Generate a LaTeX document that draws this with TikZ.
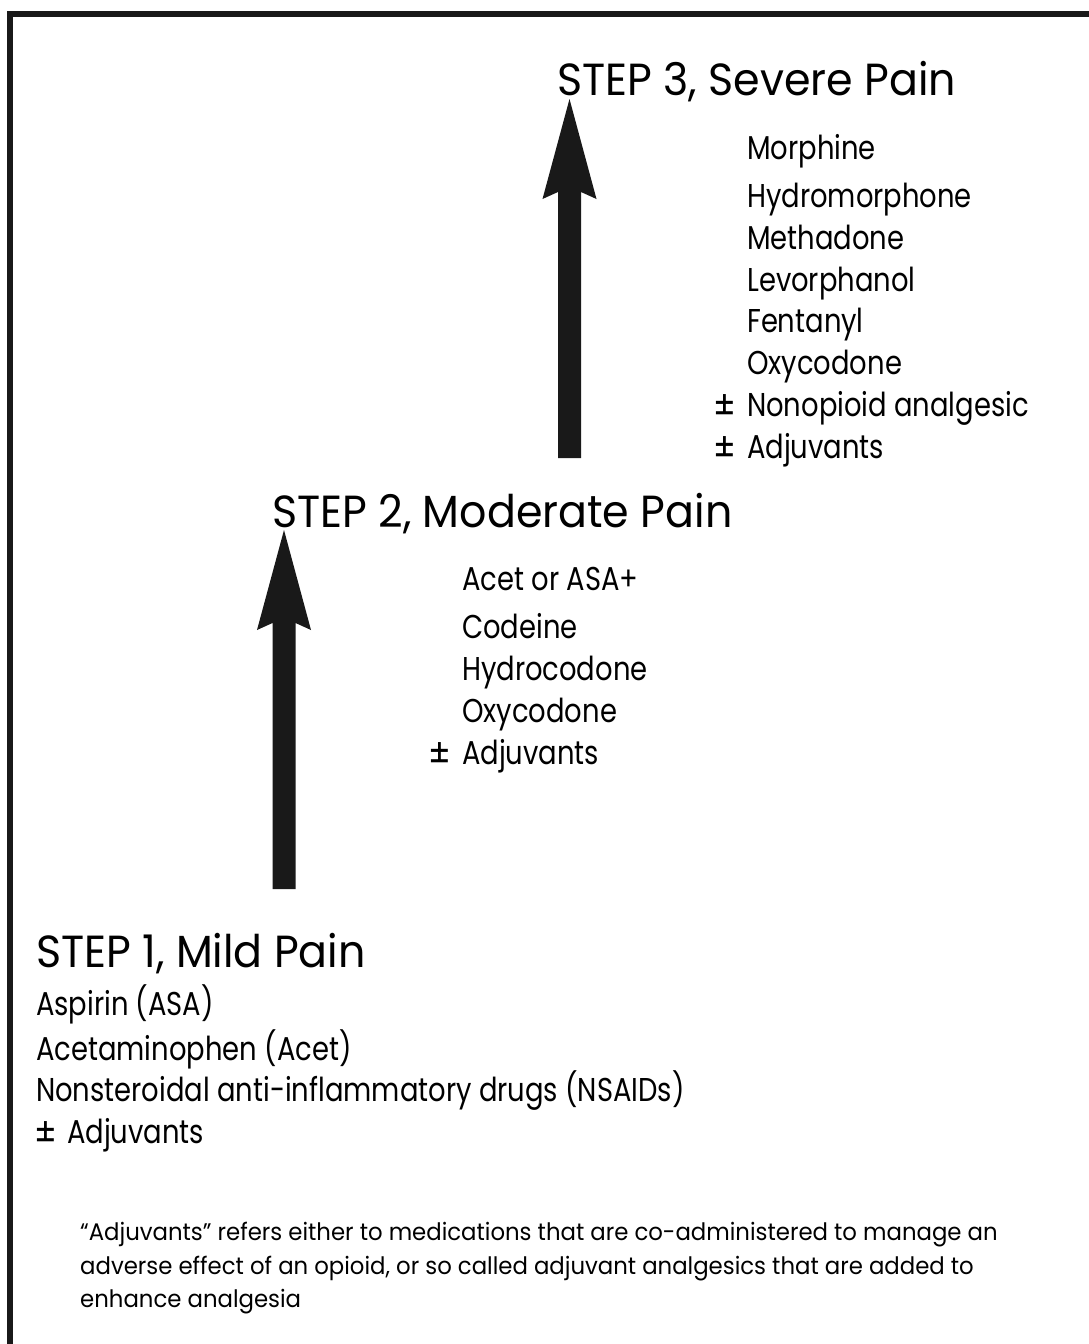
\documentclass[tikz,border=0pt]{standalone}
\usepackage{fontspec}
\setmainfont{Poppins}
\newfontfamily\headfont[FakeStretch=0.95]{Poppins}
\newfontfamily\itemfont[FakeStretch=0.83]{Poppins}
\newfontfamily\notefont[FakeStretch=0.95]{Poppins}
\usetikzlibrary{calc}
\tikzset{
  head/.style={anchor=base west,inner sep=0pt,font=\headfont\fontsize{45}{50}\selectfont},
  item/.style={anchor=base west,inner sep=0pt,font=\itemfont\fontsize{33}{38}\selectfont},
  pmsign/.style={anchor=base west,inner sep=0pt,yshift=-3pt,font=\itemfont\fontsize{40}{42}\selectfont},
  note/.style={anchor=base west,inner sep=0pt,font=\notefont\fontsize{24}{28}\selectfont},
  frame/.style={line width=6pt,black!90}
}
\newcommand{\bigarrowfill}[2]{%
  \fill[black!90] ($(#2)+(-11.5,93)$) -- ($(#2)+(-27,100)$) -- (#2) -- ($(#2)+(27,100)$) -- ($(#2)+(11.5,93)$) -- ($(#1)+(11.5,0)$) -- ($(#1)+(-11.5,0)$) -- cycle;}
\begin{document}
\begin{tikzpicture}[x=1pt,y=-1pt]
\useasboundingbox (0,0) rectangle (1089,1344);
\fill[white] (0,0) rectangle (1089,1344);
% frame
\draw[frame] (1089,14) -- (10,14) -- (10,1344);
% arrows
\coordinate (a3bot) at (569.5,458);
\coordinate (a3tip) at (569.5,99);
\coordinate (a2bot) at (284,889);
\coordinate (a2tip) at (284,530);
\bigarrowfill{a3bot}{a3tip}
\bigarrowfill{a2bot}{a2tip}
% step 3
\node[head] (s3) at (557,95) {STEP 3, Severe Pain};
\node[item] (m1) at (747,159) {Morphine};
\node[item] (m2) at (747,207) {Hydromorphone};
\node[item] (m3) at (747,249) {Methadone};
\node[item] (m4) at (747,291) {Levorphanol};
\node[item] (m5) at (747,332) {Fentanyl};
\node[item] (m6) at (747,374) {Oxycodone};
\node[item] (m7) at (747,416) {Nonopioid analgesic};
\node[item] (m8) at (747,458) {Adjuvants};
\node[pmsign] (pm1) at (713,416) {±};
\node[pmsign] (pm2) at (713,458) {±};
% step 2
\node[head] (s2) at (272,527) {STEP 2, Moderate Pain};
\node[item] (c1) at (462,590) {Acet or ASA+};
\node[item] (c2) at (462,638) {Codeine};
\node[item] (c3) at (462,680) {Hydrocodone};
\node[item] (c4) at (462,722) {Oxycodone};
\node[item] (c5) at (462,764) {Adjuvants};
\node[pmsign] (pm3) at (428,764) {±};
% step 1
\node[head] (s1) at (36,967) {STEP 1, Mild Pain};
\node[item] (n1) at (36,1015) {Aspirin (ASA)};
\node[item] (n2) at (36,1060) {Acetaminophen (Acet)};
\node[item] (n3) at (36,1101) {Nonsteroidal anti-inflammatory drugs (NSAIDs)};
\node[pmsign] (pm4) at (34,1143) {±};
\node[item] (n4) at (67,1143) {Adjuvants};
% note
\node[note] (f1) at (80,1240) {“Adjuvants” refers either to medications that are co-administered to manage an};
\node[note] (f2) at (80,1274) {adverse effect of an opioid, or so called adjuvant analgesics that are added to};
\node[note] (f3) at (80,1307) {enhance analgesia};
\end{tikzpicture}
\end{document}
